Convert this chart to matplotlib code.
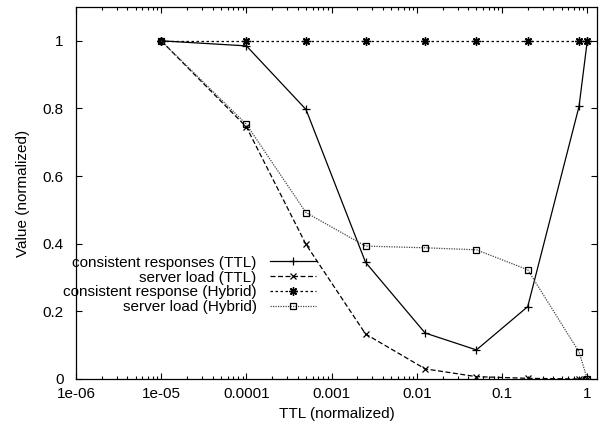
import matplotlib
matplotlib.use('Agg')
import matplotlib.pyplot as plt
from matplotlib.ticker import FixedLocator, FixedFormatter, LogLocator, NullFormatter

plt.rcParams['font.family'] = ['Liberation Sans', 'DejaVu Sans']
plt.rcParams['font.size'] = 11

# valores
ttl = [1e-5, 1e-4, 5e-4, 2.5e-3, 1.25e-2, 5e-2, 0.2, 0.8, 1.0]
consist_ttl = [1.0, 0.985, 0.797, 0.345, 0.136, 0.086, 0.214, 0.806, 1.0]
load_ttl = [1.0, 0.745, 0.398, 0.133, 0.030, 0.007, 0.002, 0.0, 0.0]
consist_hyb = [1.0, 1.0, 1.0, 1.0, 1.0, 1.0, 1.0, 1.0, 1.0]
load_hyb = [1.0, 0.753, 0.492, 0.393, 0.388, 0.382, 0.323, 0.080, 0.0]

labels = ['consistent responses (TTL)', 'server load (TTL)',
          'consistent response (Hybrid)', 'server load (Hybrid)']
xticks = [1e-6, 1e-5, 1e-4, 1e-3, 1e-2, 1e-1, 1]
xtick_labels = ['1e-06', '1e-05', '0.0001', '0.001', '0.01', '0.1', '1']
yticks = [0, 0.2, 0.4, 0.6, 0.8, 1]
ytick_labels = ['0', '0.2', '0.4', '0.6', '0.8', '1']

fig = plt.figure(figsize=(6.08, 4.30), dpi=100)
ax = fig.add_axes([76 / 608, 1 - 379 / 430, 521 / 608, 372 / 430])

lw = 0.9
ax.plot(ttl, consist_ttl, color='black', lw=lw, ls='-', marker='+', ms=6,
        mew=0.9, label=labels[0])
ax.plot(ttl, load_ttl, color='black', lw=lw, ls=(0, (4, 2)), marker='x', ms=5,
        mew=0.9, label=labels[1])
ax.plot(ttl, consist_hyb, color='black', lw=lw, ls=(0, (2, 2)), marker=(8, 2, 0),
        ms=6, mew=1.0, label=labels[2])
ax.plot(ttl, load_hyb, color='#444444', lw=lw, ls=(0, (1, 1)), marker='s', ms=5,
        mfc='none', mec='black', mew=0.9, label=labels[3])

ax.set_xscale('log')
ax.set_xlim(1e-6, 1.3)
ax.set_ylim(0, 1.1)

ax.xaxis.set_major_locator(FixedLocator(xticks))
ax.xaxis.set_major_formatter(FixedFormatter(xtick_labels))
ax.xaxis.set_minor_locator(LogLocator(base=10, subs=range(2, 10), numticks=20))
ax.xaxis.set_minor_formatter(NullFormatter())
ax.yaxis.set_major_locator(FixedLocator(yticks))
ax.yaxis.set_major_formatter(FixedFormatter(ytick_labels))

ax.tick_params(which='both', direction='in', top=True, right=True, width=0.8)
ax.tick_params(which='major', length=4)
ax.tick_params(which='minor', length=2)
ax.tick_params(axis='x', pad=6)
ax.tick_params(axis='y', pad=9)
for s in ax.spines.values():
    s.set_linewidth(0.9)

ax.set_xlabel('TTL (normalized)', labelpad=4)
ax.set_ylabel('Value (normalized)', labelpad=9)

ax.legend(loc='center right', bbox_to_anchor=(0.461, 0.253), frameon=False,
          markerfirst=False, handlelength=3.0, handletextpad=0.9,
          labelspacing=0.05, borderpad=0, borderaxespad=0)

plt.savefig('out.png', dpi=100)
